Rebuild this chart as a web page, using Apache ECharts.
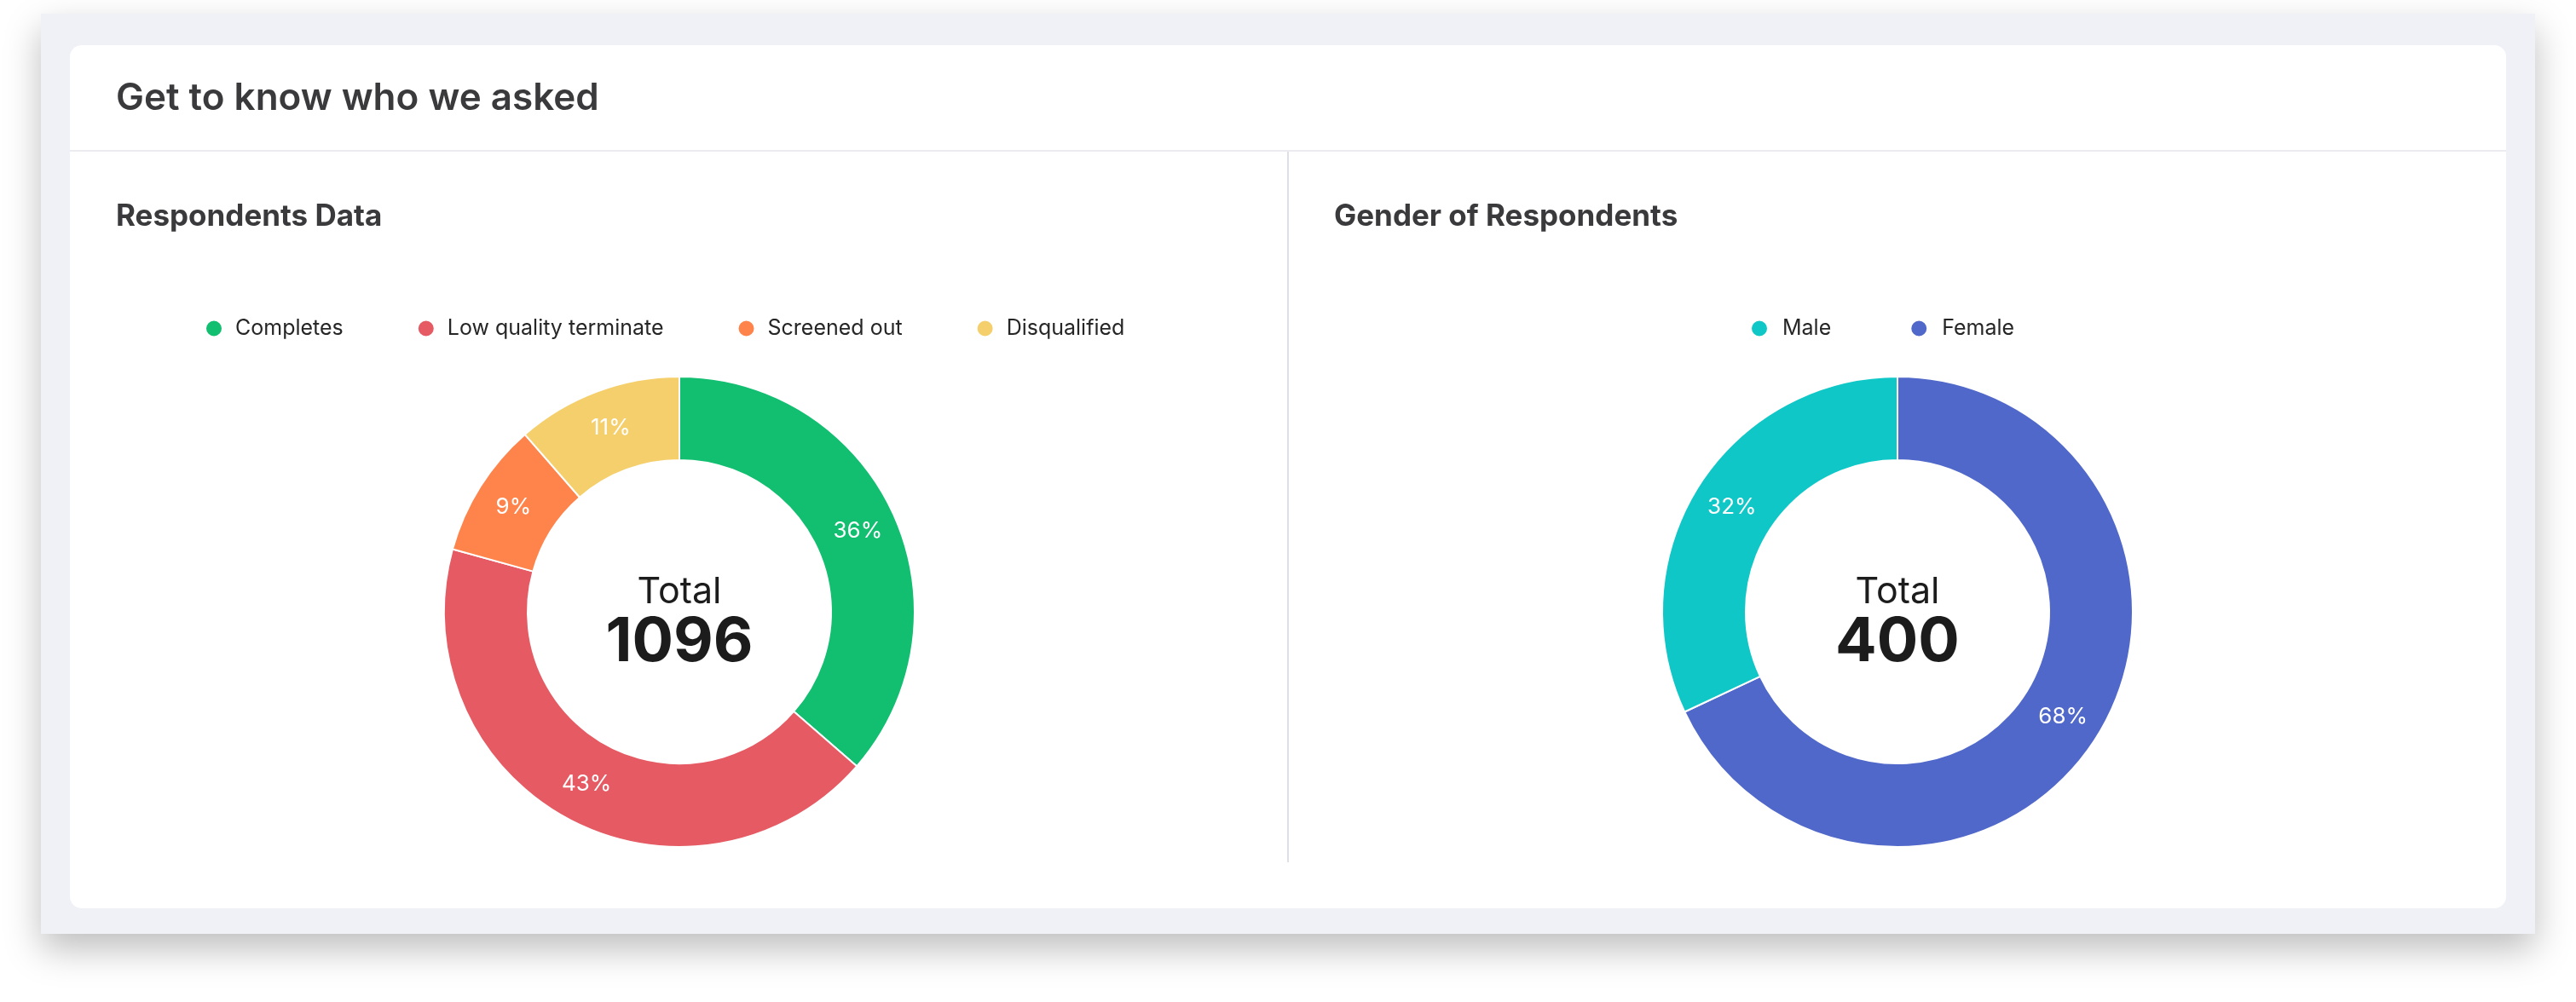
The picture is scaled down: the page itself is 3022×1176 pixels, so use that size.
<!DOCTYPE html>
<html>
<head>
<meta charset="utf-8">
<title>Get to know who we asked</title>
<script src="https://cdn.jsdelivr.net/npm/echarts@6/dist/echarts.min.js"></script>
<style>
  html, body { margin: 0; padding: 0; background: #fff; }
  body { width: 3022px; height: 1176px; position: relative; overflow: hidden; font-family: Inter, "Noto Sans", sans-serif; }
  .panel { position: absolute; left: 48px; top: 16px; width: 2926px; height: 1080px; background: #f0f1f6;
           box-shadow: 0 18px 40px rgba(0, 0, 0, 0.26); }
  .card { position: absolute; left: 82px; top: 53px; width: 2858px; height: 1013px; background: #fff; border-radius: 14px; }
  .hline { position: absolute; left: 82px; top: 176px; width: 2858px; height: 2px; background: #ececf0; }
  .vline { position: absolute; left: 1510px; top: 178px; width: 2px; height: 834px; background: #dfdfe8; }
  #chart { position: absolute; left: 0; top: 0; width: 3022px; height: 1176px; }
</style>
</head>
<body>
<div class="panel"></div>
<div class="card"></div>
<div class="hline"></div>
<div class="vline"></div>
<div id="chart"></div>
<script>
// respondents
var respCategories = ['Completes', 'Low quality terminate', 'Screened out', 'Disqualified'];
var respValues = [399, 470, 102, 125];
var respColors = ['#12be6f', '#e55a63', '#ff844c', '#f4cf6b'];

// gender (drawn Female first so Male sits on the left)
var genderLegend = ['Male', 'Female'];
var genderCategories = ['Female', 'Male'];
var genderValues = [272, 128];
var genderColors = ['#5068c9', '#0fc7c7'];

var FONT = 'Inter, "Noto Sans", sans-serif';

function sum(arr) {
  return arr.reduce(function (a, b) { return a + b; }, 0);
}

function pieData(names, values, colors) {
  return names.map(function (n, i) {
    return { name: n, value: values[i], itemStyle: { color: colors[i] } };
  });
}

function pieSeries(name, center, data) {
  return {
    name: name,
    type: 'pie',
    center: center,
    radius: [178, 276],
    startAngle: 90,
    clockwise: true,
    avoidLabelOverlap: false,
    emphasis: { disabled: true },
    itemStyle: { borderColor: '#fff', borderWidth: 2 },
    label: {
      show: true,
      position: 'inside',
      color: '#fff',
      fontFamily: FONT,
      fontSize: 26,
      fontWeight: 400,
      formatter: function (p) { return Math.round(p.percent) + '%'; }
    },
    labelLine: { show: false },
    data: data
  };
}

function centerText(x, total) {
  return [
    {
      type: 'text', x: x, y: 695,
      style: { text: 'Total', fill: '#1c1c1c', font: '400 43px ' + FONT, align: 'center', verticalAlign: 'middle' }
    },
    {
      type: 'text', x: x, y: 754,
      style: { text: String(total), fill: '#1c1c1c', font: '700 72px ' + FONT, align: 'center', verticalAlign: 'middle' }
    }
  ];
}

var chart = echarts.init(document.getElementById('chart'), null, { renderer: 'canvas' });

chart.setOption({
  animation: false,
  title: [
    { text: 'Get to know who we asked', left: 136, top: 94, padding: 0,
      textStyle: { fontFamily: FONT, fontSize: 44, fontWeight: 600, color: '#3a3a3c' } },
    { text: 'Respondents Data', left: 136, top: 237, padding: 0,
      textStyle: { fontFamily: FONT, fontSize: 35, fontWeight: 700, color: '#3a3a3c' } },
    { text: 'Gender of Respondents', left: 1565, top: 237, padding: 0,
      textStyle: { fontFamily: FONT, fontSize: 35, fontWeight: 700, color: '#3a3a3c' } }
  ],
  legend: [
    {
      data: respCategories,
      seriesIndex: 0,
      left: 240, top: 373, padding: 0,
      icon: 'circle', itemWidth: 40, itemHeight: 20, itemGap: 86,
      selectedMode: false,
      textStyle: { fontFamily: FONT, fontSize: 25, color: '#262626' }
    },
    {
      data: genderLegend,
      left: 2053, top: 373, padding: 0,
      icon: 'circle', itemWidth: 44, itemHeight: 20, itemGap: 92,
      selectedMode: false,
      textStyle: { fontFamily: FONT, fontSize: 25, color: '#262626' }
    }
  ],
  series: [
    pieSeries('Respondents Data', [797, 718], pieData(respCategories, respValues, respColors)),
    pieSeries('Gender of Respondents', [2226, 718], pieData(genderCategories, genderValues, genderColors))
  ],
  graphic: centerText(797, sum(respValues)).concat(centerText(2226, sum(genderValues)))
});
</script>
</body>
</html>
